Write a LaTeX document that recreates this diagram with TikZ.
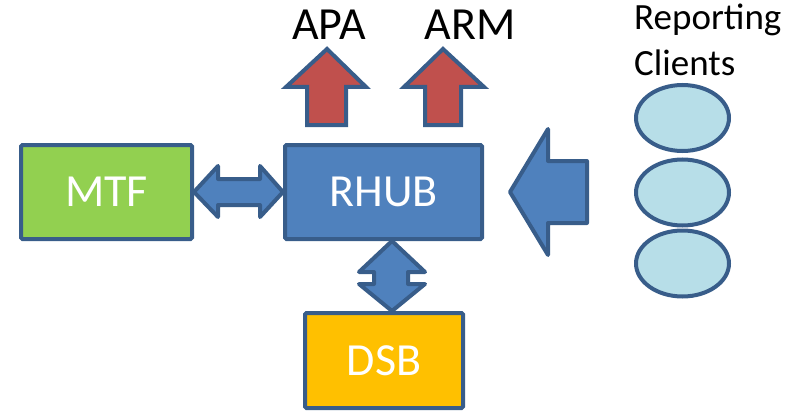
\documentclass[tikz,border=0pt]{standalone}
\usepackage{fontspec}
\setmainfont{Carlito}
\usetikzlibrary{calc,shapes.geometric}
\definecolor{edgeblue}{HTML}{385D8A}
\definecolor{fillblue}{HTML}{4F81BD}
\definecolor{fillgreen}{HTML}{92D050}
\definecolor{fillorange}{HTML}{FFC000}
\definecolor{fillred}{HTML}{C0504D}
\definecolor{filllight}{HTML}{B7DEE8}
\begin{document}
\begin{tikzpicture}[x=1pt,y=-1pt,
  box/.style={draw=edgeblue,line width=4pt,rounded corners=1.5pt,inner sep=0pt,text=white,font=\fontsize{46}{54}\selectfont},
  arrowshape/.style={draw=edgeblue,line width=4pt,line join=round,fill=fillblue},
  uparrow/.style={draw=edgeblue,line width=4pt,line join=miter,fill=fillred},
  client/.style={draw=edgeblue,line width=4pt,fill=filllight,ellipse,minimum width=93pt,minimum height=66pt,inner sep=0pt},
  bigtext/.style={font=\fontsize{46}{54}\selectfont,anchor=base,inner sep=0pt},
  smalltext/.style={font=\fontsize{37}{45}\selectfont,anchor=base west,inner sep=0pt}]
\useasboundingbox (0,0) rectangle (798,412);
% boxes
\node[box,fill=fillgreen,minimum width=171pt,minimum height=94pt] (mtf) at (106.5,192) {MTF};
\node[box,fill=fillblue,minimum width=197pt,minimum height=94pt] (rhub) at (383.5,192) {RHUB};
\node[box,fill=fillorange,minimum width=158pt,minimum height=95pt] (dsb) at (384,360.5) {DSB};
% horizontal double arrow MTF <-> RHUB
\draw[arrowshape] (mtf.east) -- (218,166) -- (218,179) -- (260,179) -- (260,166) -- (rhub.west)
  -- (260,217) -- (260,205) -- (218,205) -- (218,217) -- cycle;
% vertical double arrow RHUB <-> DSB
\path (rhub.south) ++(8.5,0) coordinate (vtop);
\path (dsb.north) ++(8,0) coordinate (vbot);
\draw[arrowshape] (vtop) -- (425,272) -- (408,272) -- (408,284) -- (425,284) -- (vbot)
  -- (359,284) -- (374,284) -- (374,272) -- (359,272) -- cycle;
% up arrows
\coordinate (apatip) at (327,49);
\coordinate (armtip) at (443,49);
\draw[uparrow] (apatip) -- (366,87) -- (346,87) -- (346,125) -- (307,125) -- (307,87) -- (286,87) -- cycle;
\draw[uparrow] (armtip) -- (484,87) -- (461,87) -- (461,125) -- (425,125) -- (425,87) -- (404,87) -- cycle;
\node[bigtext] (apa) at (329,40) {APA};
\node[bigtext] (arm) at (470,40) {ARM};
% left arrow
\coordinate (ltip) at (510,192);
\draw[arrowshape] (ltip) -- (548,129) -- (548,161) -- (587,161) -- (587,223) -- (548,223) -- (548,255) -- cycle;
% clients
\node[client] (c1) at (682.5,118) {};
\node[client] (c2) at (682.5,192.5) {};
\node[client] (c3) at (682.5,263.5) {};
\node[smalltext] (rep) at (634,30) {Reporting};
\node[smalltext] (cli) at (634,75) {Clients};
\end{tikzpicture}
\end{document}
